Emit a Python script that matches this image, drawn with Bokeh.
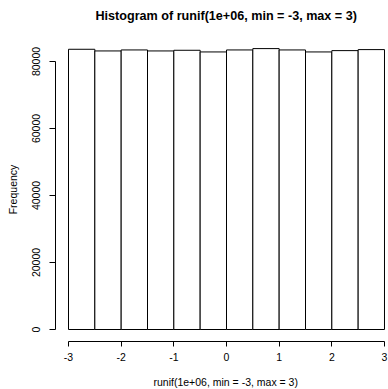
from bokeh.plotting import figure
from bokeh.models import ColumnDataSource, FixedTicker, Range1d, Title, LinearAxis
from bokeh.embed import file_html
from bokeh.resources import INLINE

# ---- data ----
bin_left = [-3.0, -2.5, -2.0, -1.5, -1.0, -0.5, 0.0, 0.5, 1.0, 1.5, 2.0, 2.5]
bin_right = [-2.5, -2.0, -1.5, -1.0, -0.5, 0.0, 0.5, 1.0, 1.5, 2.0, 2.5, 3.0]
counts = [83650, 83150, 83450, 83150, 83350, 82850, 83450, 83850, 83450, 82850, 83250, 83550]
x_ticks = [-3, -2, -1, 0, 1, 2, 3]
x_tick_labels = ["-3", "-2", "-1", "0", "1", "2", "3"]
y_ticks = [0, 20000, 40000, 60000, 80000]
title_text = "Histogram of runif(1e+06, min = -3, max = 3)"
x_label = "runif(1e+06, min = -3, max = 3)"
y_label = "Frequency"

FONT = "Liberation Sans"

x_start, x_end = -3.247, 3.076
y_start, y_end = -3582, 87164

p = figure(width=388, height=389, output_backend="svg", toolbar_location=None,
           x_range=Range1d(x_start, x_end), y_range=Range1d(y_start, y_end),
           min_border_left=55, min_border_right=0, min_border_top=37, min_border_bottom=48)
p.outline_line_color = None
p.background_fill_color = "white"
p.border_fill_color = "white"
p.xgrid.visible = False
p.ygrid.visible = False

xa = p.xaxis[0]
ya = p.yaxis[0]

src = ColumnDataSource(dict(left=bin_left, right=bin_right, top=counts, bottom=[0] * len(counts)))
p.quad(left="left", right="right", top="top", bottom="bottom", source=src,
       fill_color="white", line_color="black", line_width=1)


def spacer_axis(size):
    # an axis with one invisible (white, unlabeled) tick: it only reserves room
    ax = LinearAxis(ticker=FixedTicker(ticks=[-2.75], minor_ticks=[]), major_tick_out=size, major_tick_in=0,
                    minor_tick_out=0, minor_tick_in=0, major_label_standoff=0,
                    major_label_overrides={-2.75: ""}, major_label_text_font_size="1px",
                    axis_line_color=None, major_tick_line_color="white", minor_tick_line_color=None)
    return ax


# spacer above the frame so the title sits higher
p.add_layout(spacer_axis(14), "above")

# title
p.title.text = title_text
p.title.align = "left"
p.title.offset = 40
p.title.standoff = 2
p.title.text_font = FONT
p.title.text_font_style = "bold"
p.title.text_font_size = "12.6px"
p.title.text_color = "black"

# x axis
xa.ticker = FixedTicker(ticks=x_ticks)
xa.major_label_overrides = {t: s for t, s in zip(x_ticks, x_tick_labels)}
xa.bounds = (min(x_ticks), max(x_ticks))
xa.major_tick_out = 5
xa.major_tick_in = 0
xa.minor_tick_line_color = None
xa.major_label_standoff = 6
xa.major_label_text_font = FONT
xa.major_label_text_font_size = "10.5px"
xa.major_label_text_color = "black"
xa.axis_line_color = "black"
xa.major_tick_line_color = "black"

# spacer + x label as a bottom title (centred on x = 0 like R)
p.add_layout(spacer_axis(9), "below")
xt = Title(text=x_label, align="left", offset=98, standoff=2,
           text_font=FONT, text_font_style="normal", text_font_size="10.5px", text_color="black")
p.add_layout(xt, "below")

# y axis
ya.ticker = FixedTicker(ticks=y_ticks)
ya.bounds = (min(y_ticks), max(y_ticks))
ya.major_tick_out = 6
ya.major_tick_in = 0
ya.minor_tick_line_color = None
ya.major_label_standoff = 9
ya.major_label_orientation = "vertical"
ya.major_label_text_font = FONT
ya.major_label_text_font_size = "10.5px"
ya.major_label_text_color = "black"
ya.axis_line_color = "black"
ya.major_tick_line_color = "black"
ya.axis_label = y_label
ya.axis_label_standoff = 11
ya.axis_label_text_font = FONT
ya.axis_label_text_font_style = "normal"
ya.axis_label_text_font_size = "10.5px"
ya.axis_label_text_color = "black"

open("out.html", "w").write(file_html(p, INLINE))
